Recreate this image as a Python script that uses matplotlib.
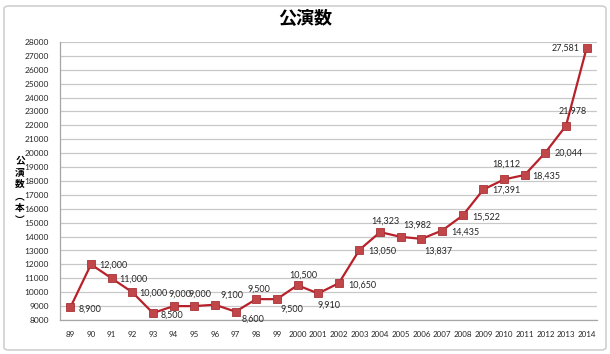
import matplotlib.pyplot as plt
from matplotlib.patches import FancyBboxPatch

years = ["89", "90", "91", "92", "93", "94", "95", "96", "97", "98", "99",
         "2000", "2001", "2002", "2003", "2004", "2005", "2006", "2007",
         "2008", "2009", "2010", "2011", "2012", "2013", "2014"]
shows = [8900, 12000, 11000, 10000, 8500, 9000, 9000, 9100, 8600, 9500, 9500,
         10500, 9910, 10650, 13050, 14323, 13982, 13837, 14435,
         15522, 17391, 18112, 18435, 20044, 21978, 27581]

# label placement per point (dx, dy in pixels, horizontal alignment)
label_pos = [(8, -2, "left"), (8, -1, "left"), (8, -1, "left"), (7, -1, "left"),
             (8, -2, "left"), (6, 12, "center"), (6, 12, "center"), (17, 10, "center"),
             (18, -8, "center"), (3, 10, "center"), (15, -10, "center"), (6, 10, "center"),
             (11, -12, "center"), (9, -2, "left"), (9, -1, "left"), (5, 11, "center"),
             (17, 12, "center"), (17, -12, "center"), (9, -2, "left"), (10, -2, "left"),
             (9, -1, "left"), (2, 15, "center"), (8, -1, "left"), (9, -1, "left"),
             (7, 15, "center"), (-7, 0, "right")]

jp = ["Noto Sans CJK JP", "DejaVu Sans"]
num_font = "Lato"

fig = plt.figure(figsize=(6.1, 3.54), dpi=100)
ax = fig.add_axes([60 / 610, 1 - 320 / 354, 537 / 610, 278 / 354])

# outer chart border like Excel
fig.patches.append(FancyBboxPatch((4 / 610, 4 / 354), 602 / 610, 344 / 354,
                                  boxstyle="round,pad=0,rounding_size=0.008",
                                  transform=fig.transFigure, fill=False,
                                  edgecolor="#D0D0D0", linewidth=1.2))

x = list(range(len(years)))
ax.plot(x, shows, color="#B8202A", linewidth=1.6, marker="s", markersize=5.5,
        markerfacecolor="#C0464A", markeredgecolor="#A83236", markeredgewidth=0.6,
        zorder=3)

for i, v in enumerate(shows):
    dx, dy, ha = label_pos[i]
    ax.annotate(f"{v:,}", (i, v), xytext=(dx, dy), textcoords="offset pixels",
                ha=ha, va="center", fontsize=6.5, family=num_font, color="#262626")

ax.set_xlim(-0.5, len(years) - 0.5)
ax.set_ylim(8000, 28000)
ax.set_yticks(range(8000, 28001, 1000))
ax.set_yticklabels([str(t) for t in range(8000, 28001, 1000)],
                   fontsize=6, family=num_font, color="#262626")
ax.set_xticks(x)
ax.set_xticklabels(years, fontsize=5.8, family=num_font, color="#262626")
ax.tick_params(axis="both", length=0)
ax.tick_params(axis="y", pad=8)
ax.tick_params(axis="x", pad=8)

ax.grid(axis="y", color="#C8C8C8", linewidth=0.9)
ax.set_axisbelow(True)
for s in ["top", "right"]:
    ax.spines[s].set_visible(False)
for s in ["left", "bottom"]:
    ax.spines[s].set_color("#A6A6A6")
    ax.spines[s].set_linewidth(0.9)

fig.text(0.5, 1 - 18 / 354, "公演数", ha="center", va="center",
         fontsize=13, fontweight="bold", family=jp)
fig.text(20 / 610, 1 - 190 / 354, "公\n演\n数\n︵\n本\n︶", ha="center", va="center",
         fontsize=7, fontweight="bold", family=jp, linespacing=1.25)

fig.savefig("out.png", dpi=100)
